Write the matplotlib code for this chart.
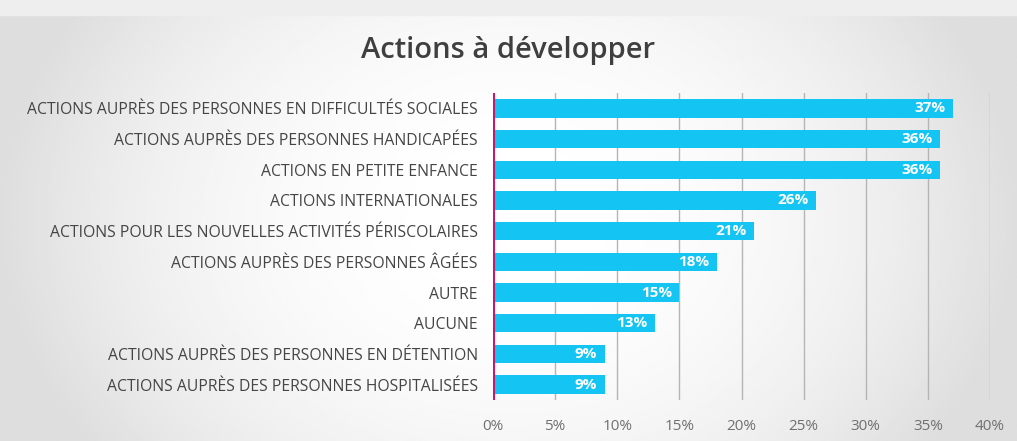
import numpy as np
import matplotlib.pyplot as plt
from matplotlib import font_manager

categories = [
    'ACTIONS AUPRÈS DES PERSONNES EN DIFFICULTÉS SOCIALES',
    'ACTIONS AUPRÈS DES PERSONNES HANDICAPÉES',
    'ACTIONS EN PETITE ENFANCE',
    'ACTIONS INTERNATIONALES',
    'ACTIONS POUR LES NOUVELLES ACTIVITÉS PÉRISCOLAIRES',
    'ACTIONS AUPRÈS DES PERSONNES ÂGÉES',
    'AUTRE',
    'AUCUNE',
    'ACTIONS AUPRÈS DES PERSONNES EN DÉTENTION',
    'ACTIONS AUPRÈS DES PERSONNES HOSPITALISÉES',
]
values = [37, 36, 36, 26, 21, 18, 15, 13, 9, 9]
xticks = [0, 5, 10, 15, 20, 25, 30, 35, 40]

names = {f.name for f in font_manager.fontManager.ttflist}
fam = 'Liberation Sans Narrow' if 'Liberation Sans Narrow' in names else 'Open Sans'
plt.rcParams['font.family'] = [fam, 'DejaVu Sans']

fig = plt.figure(figsize=(10.17, 4.41), dpi=100)

# background: grey frame with a soft white centre
bg = fig.add_axes([0, 0, 1, 1], zorder=-10)
xx, yy = np.meshgrid(np.linspace(-1, 1, 400), np.linspace(-1, 1, 200))
r = np.sqrt(xx ** 2 + (yy / 1.8) ** 2)
shade = 1 - 0.13 * np.clip(r, 0, 1) ** 2.2
bg.imshow(shade, cmap='gray', vmin=0, vmax=1, aspect='auto', extent=[0, 1, 0, 1])
bg.fill_between([0, 1], 0.965, 1, color='#eeeeee')
bg.set_xlim(0, 1)
bg.set_ylim(0, 1)
bg.axis('off')

ax = fig.add_axes([493 / 1017, 41 / 441, 497 / 1017, 307 / 441])
ax.patch.set_alpha(0)

y = np.arange(len(categories))
bars = ax.barh(y, values, height=0.6, color='#14c4f2', zorder=3)
for b, v in zip(bars, values):
    ax.text(b.get_width() - 0.6, b.get_y() + b.get_height() / 2, f'{v}%',
            ha='right', va='center', color='white', fontsize=11,
            fontweight='bold', zorder=4)

ax.set_ylim(len(categories) - 0.5, -0.5)
ax.set_xlim(0, 40)
ax.set_yticks(y)
ax.set_yticklabels(categories, fontsize=11.3, color='#454545')
ax.set_xticks(xticks)
ax.set_xticklabels([f'{t}%' for t in xticks], fontsize=11, color='#707070')
ax.tick_params(axis='both', length=0)
ax.tick_params(axis='y', pad=11)
ax.tick_params(axis='x', pad=14)
ax.grid(axis='x', color='#b5b5b5', linewidth=1, zorder=0)
for s in ax.spines.values():
    s.set_visible(False)
ax.axvline(0, color='#c8186e', linewidth=2.2, zorder=5)

fig.text(0.5, 0.885, 'Actions à développer', ha='center', va='center',
         fontsize=21, fontweight='semibold', color='#3f3f3f')

fig.savefig('out.png', dpi=100)
